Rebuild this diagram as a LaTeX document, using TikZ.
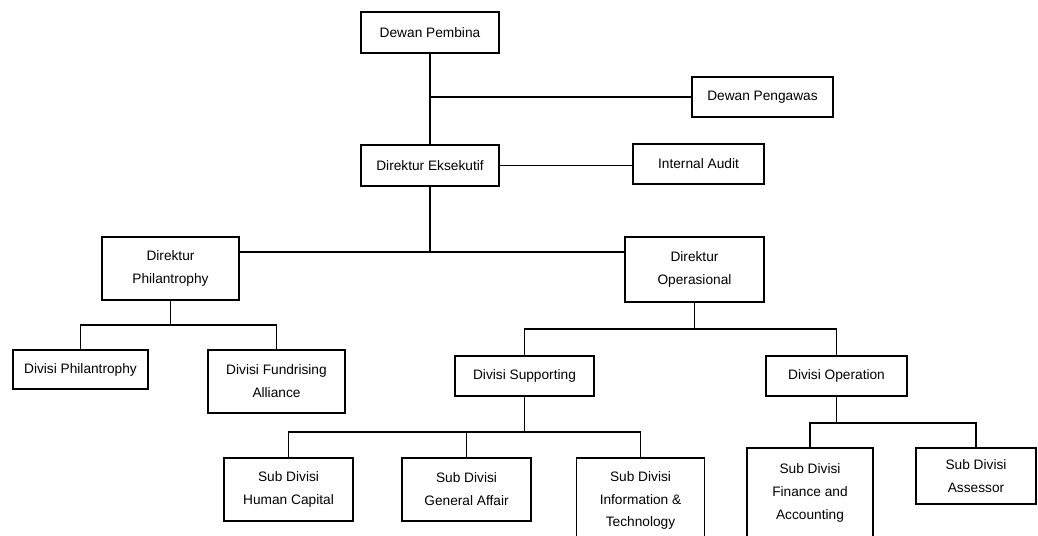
\documentclass[tikz,border=0pt]{standalone}
\usepackage{fontspec}
\setmainfont{Liberation Sans}
\usetikzlibrary{positioning}
\tikzset{
  unit/.style={draw, line width=1.1pt, align=center, inner sep=0pt,
    font=\fontsize{7.8}{13}\selectfont},
  link/.style={line width=0.7pt}
}

\begin{document}
\begin{tikzpicture}[x=0.02cm, y=-0.02cm]
  \useasboundingbox (0,0) rectangle (1038,535);
  \clip (0,0) rectangle (1038,535);

  % board and executive
  \node[unit, minimum width=2.76cm, minimum height=0.82cm] (pembina)   at (430,32.5)  {Dewan Pembina};
  \node[unit, minimum width=2.82cm, minimum height=0.80cm] (pengawas)  at (762.5,97)  {Dewan Pengawas};
  \node[unit, minimum width=2.76cm, minimum height=0.82cm] (eksekutif) at (430,165.5) {Direktur Eksekutif};
  \node[unit, minimum width=2.62cm, minimum height=0.80cm] (audit)     at (698.5,164) {Internal Audit};

  % directors
  \node[unit, minimum width=2.74cm, minimum height=1.26cm] (dirphil) at (170.5,268.5) {Direktur\\Philantrophy};
  \node[unit, minimum width=2.78cm, minimum height=1.30cm] (dirops)  at (694.5,269.5) {Direktur\\Operasional};

  % divisions
  \node[unit, minimum width=2.70cm, minimum height=0.78cm] (divphil)    at (80.5,369.5)  {Divisi Philantrophy};
  \node[unit, minimum width=2.74cm, minimum height=1.26cm] (fundrising) at (276.5,381.5) {Divisi Fundrising\\Alliance};
  \node[unit, minimum width=2.78cm, minimum height=0.80cm] (supporting) at (524.5,376)   {Divisi Supporting};
  \node[unit, minimum width=2.82cm, minimum height=0.80cm] (operation)  at (836.5,376)   {Divisi Operation};

  % sub divisions
  \node[unit, minimum width=2.58cm, minimum height=1.26cm] (humancap) at (288.5,489.5) {Sub Divisi\\Human Capital};
  \node[unit, minimum width=2.58cm, minimum height=1.26cm] (general)  at (466.5,489.5) {Sub Divisi\\General Affair};
  \node[unit, minimum width=2.56cm, minimum height=1.70cm, anchor=north] (infotech) at (640.5,457) {Sub Divisi\\Information \&\\Technology};
  \node[unit, minimum width=2.52cm, minimum height=1.80cm, anchor=north] (finance)  at (810,447)   {Sub Divisi\\Finance and\\Accounting};
  \node[unit, minimum width=2.40cm, minimum height=1.12cm] (assessor) at (976,476) {Sub Divisi\\Assessor};

  % lines
  \draw[link] (pembina) -- (eksekutif);
  \draw[link] (pengawas.west) -- (pengawas.west -| pembina.south);
  \draw[link] (eksekutif.east) -- (eksekutif.east -| audit.west);

  \coordinate (split) at (430,252);
  \draw[link] (eksekutif) -- (split);
  \draw[link] (dirphil.east |- split) -- (dirops.west |- split);

  \draw[link] (dirphil.south) -- ++(0,24) coordinate (phil);
  \draw[link] (divphil.north) |- (phil) -| (fundrising.north);

  \draw[link] (dirops.south) -- ++(0,26) coordinate (ops);
  \draw[link] (supporting.north) |- (ops) -| (operation.north);

  \draw[link] (supporting.south) -- ++(0,35) coordinate (supp);
  \draw[link] (humancap.north) |- (supp) -| (infotech.north);
  \draw[link] (supp) -| (general.north);

  \draw[link] (operation.south) -- ++(0,26) coordinate (oper);
  \draw[link] (finance.north) |- (oper) -| (assessor.north);
\end{tikzpicture}
\end{document}
